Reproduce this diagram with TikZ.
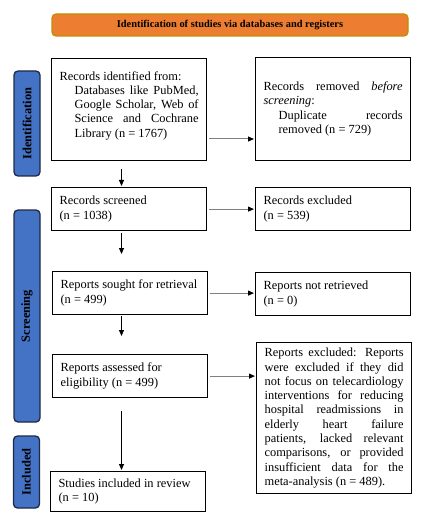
\documentclass[tikz,border=0pt]{standalone}
\usepackage{fontspec}
\setmainfont{Liberation Serif}
\usetikzlibrary{arrows.meta,calc}
\definecolor{hdrorange}{HTML}{ED7D31}
\definecolor{hdrborder}{HTML}{BF9000}
\definecolor{barblue}{HTML}{4472C4}
\definecolor{barborder}{HTML}{1F2A44}
\definecolor{arrowgray}{HTML}{7F7F7F}
\newcommand{\JL}[1]{\makebox[139pt][s]{\spaceskip=0pt\xspaceskip=0pt #1}}
\newcommand{\JI}[1]{\hspace*{15pt}\makebox[124pt][s]{\spaceskip=0pt\xspaceskip=0pt #1}}
\newcommand{\LI}[1]{\hspace*{15pt}#1}
\begin{document}
\begin{tikzpicture}[x=1pt,y=1pt,
  box/.style={draw=black, line width=1.2pt, rectangle, anchor=north west,
    inner xsep=8pt, inner ysep=0pt, text width=139pt, align=left,
    font=\fontsize{12.4}{14.3}\selectfont, minimum width=155pt,
    execute at begin node={\spaceskip=0pt\xspaceskip=0pt}},
  bar/.style={draw=barborder, fill=barblue, line width=1.3pt, rounded corners=4pt,
    minimum height=26pt, inner sep=0pt, rotate=90,
    font=\fontsize{12.4}{14.3}\selectfont\bfseries},
  hdr/.style={draw=hdrborder, fill=hdrorange, line width=1.2pt, rounded corners=4pt,
    minimum width=356pt, minimum height=22pt, inner sep=0pt,
    font=\fontsize{10.4}{12}\selectfont\bfseries},
  varrow/.style={-{Triangle[length=6pt,width=5pt]}, line width=0.8pt, draw=black},
  harrow/.style={-{Triangle[length=6pt,width=5pt,color=black]}, line width=1pt, draw=arrowgray}
]
\fill[white] (0,0) rectangle (429,-521);
\useasboundingbox (0,0) rectangle (429,-521);

\node[hdr] (hdr) at (230,-25) {Identification of studies via databases and registers};

\node[bar, minimum width=105pt] (barid) at (27,-123.5) {Identification};
\node[bar, minimum width=212pt] (barsc) at (27,-316) {Screening};
\node[bar, minimum width=72pt] (barin) at (26.5,-472) {Included};

\node[box, minimum height=102pt] (b1) at (51,-58) {%
Records identified from:\\
\JI{Databases like PubMed,}\\
\JI{Google Scholar, Web of}\\
\JI{Science and Cochrane}\\
\LI{Library (n = 1767)}\par\vspace{8pt}\hrule height 0pt depth 0pt width 0pt};

\node[box, minimum height=103pt] (r1) at (255,-57) {%
\JL{Records removed \textit{before}}\\
\textit{screening}:\\
\JI{Duplicate records}\\
\LI{removed (n = 729)}};

\node[box, minimum height=43pt] (b2) at (51,-187) {Records screened\\(n = 1038)};
\node[box, minimum height=43pt] (r2) at (255,-187) {Records excluded\\(n = 539)};

\node[box, minimum height=43pt] (b3) at (52,-271) {Reports sought for retrieval\\(n = 499)};
\node[box, minimum height=43pt] (r3) at (255,-272) {Reports not retrieved\\(n = 0)};

\node[box, minimum height=43pt] (b4) at (52,-354) {Reports assessed for\\eligibility (n = 499)};
\node[box, minimum height=151pt, minimum width=154pt] (r4) at (256,-342) {%
\JL{Reports excluded: Reports}\\
\JL{were excluded if they did}\\
\JL{not focus on telecardiology}\\
\JL{interventions for reducing}\\
\JL{hospital readmissions in}\\
\JL{elderly heart failure}\\
\JL{patients, lacked relevant}\\
\JL{comparisons, or provided}\\
\JL{insufficient data for the}\\
meta-analysis (n = 489).};

\node[box, minimum height=40pt] (b5) at (50,-471) {Studies included in review\\(n = 10)};

\coordinate (colx) at (121.5,0);
\coordinate (h1) at (0,-139);

\draw[varrow, shorten <=8pt, shorten >=1pt] (b1.south -| colx) -- (b2.north -| colx);
\draw[varrow, shorten <=2pt, shorten >=17pt] (b2.south -| colx) -- (b3.north -| colx);
\draw[varrow, shorten <=1pt, shorten >=18pt] (b3.south -| colx) -- (b4.north -| colx);
\draw[varrow, shorten <=13pt, shorten >=1pt] (b4.south -| colx) -- (b5.north -| colx);

\draw[harrow, shorten <=2pt, shorten >=1pt] (b1.east |- h1) -- (r1.west |- h1);
\draw[harrow, shorten <=2pt, shorten >=1pt] (b2.east) -- (r2.west |- b2.east);
\draw[harrow, shorten <=2pt, shorten >=1pt] (b3.east) -- (r3.west |- b3.east);
\draw[harrow, shorten <=2pt, shorten >=1pt] (b4.east) -- (r4.west |- b4.east);
\end{tikzpicture}
\end{document}
